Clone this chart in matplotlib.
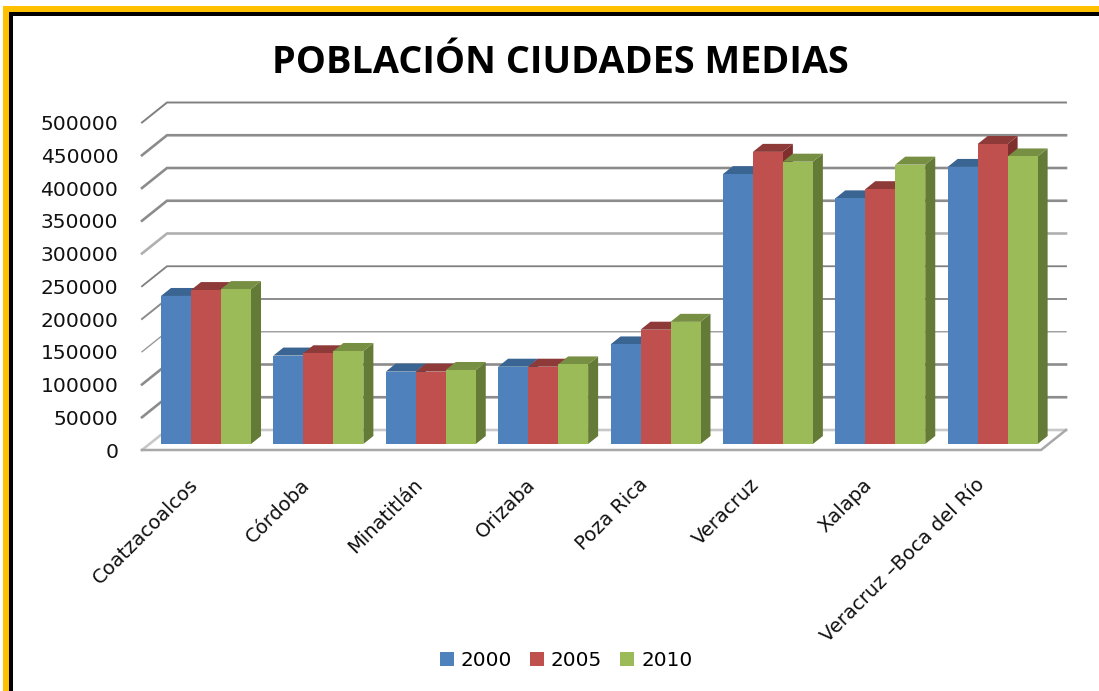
import matplotlib
matplotlib.use("Agg")
import matplotlib.pyplot as plt
from matplotlib.patches import Rectangle, Patch
from matplotlib.transforms import ScaledTranslation

title = "POBLACIÓN CIUDADES MEDIAS"
cities = ["Coatzacoalcos", "Córdoba", "Minatitlán", "Orizaba", "Poza Rica",
          "Veracruz", "Xalapa", "Veracruz –Boca del Río"]
years = ["2000", "2005", "2010"]
v2000 = [226000, 135000, 110500, 118000, 152000, 412000, 375000, 423000]
v2005 = [235000, 138500, 110500, 118000, 174500, 446000, 389000, 458000]
v2010 = [236500, 142000, 113000, 121500, 186500, 431000, 426500, 439000]
series = [v2000, v2005, v2010]
yticks = [0, 50000, 100000, 150000, 200000, 250000, 300000, 350000, 400000, 450000, 500000]

front = ["#4F81BD", "#C0504D", "#9BBB59"]
tops = ["#3A6491", "#8E3A38", "#778F43"]
sides = ["#2F5078", "#7F2F2E", "#647A37"]
grid_w = [1.9, 1.9, 1.9, 1.0, 1.4, 1.3, 1.9, 1.9, 1.9, 1.9, 1.4]
grid_c = ["#c8c8c8", "#8c8c8c", "#8c8c8c", "#9a9a9a", "#8c8c8c", "#7f7f7f",
          "#b0b0b0", "#8c8c8c", "#8c8c8c", "#8c8c8c", "#808080"]

W, H = 1099, 691
L, R, FLOOR, SPAN = 142, 1041, 450, 327.5
fig = plt.figure(figsize=(W / 100, H / 100), dpi=100, facecolor="white")
ax = fig.add_axes([L / W, (H - FLOOR) / H, (R - L) / W, SPAN / H])
ax.set_xlim(0, len(cities))
ax.set_ylim(0, 500000)
ax.patch.set_alpha(0)
for s in ax.spines.values():
    s.set_visible(False)

px = len(cities) / (R - L)      # data units per pixel, x
py = 500000 / SPAN              # data units per pixel, y

# walls and floor
wall_dx, wall_dy = 25 * px, 20 * py
for v, lw, c in zip(yticks, grid_w, grid_c):
    ax.plot([0, wall_dx, len(cities) + wall_dx], [v, v + wall_dy, v + wall_dy],
            color=c, lw=lw, clip_on=False, zorder=1, solid_joinstyle="miter")
ax.plot([0, len(cities), len(cities) + wall_dx], [0, 0, wall_dy],
        color="#a8a8a8", lw=1.8, clip_on=False, zorder=1, solid_joinstyle="miter")

# bars with depth
bar_w, bar_off, lift = 30 * px, 19 * px, 6 * py
dx, dy = 10 * px, 8 * py
z = 2
for i in range(len(cities)):
    for j, vals in enumerate(series):
        x0 = i + bar_off + j * bar_w
        x1 = x0 + bar_w
        top = vals[i] + lift
        ax.fill([x1, x1 + dx, x1 + dx, x1],
                [lift, lift + dy, top + dy, top],
                color=sides[j], lw=0, clip_on=False, zorder=z)
        ax.fill([x0, x1, x1 + dx, x0 + dx], [top, top, top + dy, top + dy],
                color=tops[j], lw=0, clip_on=False, zorder=z)
        ax.bar(x0, vals[i], width=bar_w, bottom=lift, align="edge",
               color=front[j], lw=0, clip_on=False, zorder=z)
        z += 1

FONT = "DejaVu Sans"
ax.set_yticks(yticks)
ax.set_yticklabels([str(v) for v in yticks], fontsize=14.6, family=FONT, color="#111111")
ax.tick_params(axis="y", length=0, pad=17)
ax.set_xticks([i + 0.5 for i in range(len(cities))])
ax.set_xticklabels(cities, rotation=45, ha="right", va="top", rotation_mode="anchor",
                   fontsize=14, family=FONT, color="#111111")
ax.tick_params(axis="x", length=0, pad=18)
shift = ScaledTranslation(-10 / 100, 0, fig.dpi_scale_trans)
for lab in ax.get_xticklabels():
    lab.set_transform(lab.get_transform() + shift)

fig.text(560 / W, 1 - 63 / H, title, ha="center", va="center",
         fontsize=27.3, fontweight="bold", family="Open Sans", color="black")

handles = [Patch(facecolor=c, lw=0, label=y) for c, y in zip(front, years)]
fig.legend(handles=handles, loc="center", bbox_to_anchor=(566 / W, 1 - 660 / H),
           ncol=3, frameon=False, prop={"family": FONT, "size": 14.4},
           handlelength=0.7, handleheight=0.7, handletextpad=0.35,
           columnspacing=0.9, borderpad=0, borderaxespad=0)

# frame
def frame(x, y, thick, color):
    fig.add_artist(Rectangle((x / W, 0), thick / W, 1 - y / H,
                             transform=fig.transFigure, color=color, lw=0))
    fig.add_artist(Rectangle((x / W, 1 - y / H - thick / H), 1 - x / W, thick / H,
                             transform=fig.transFigure, color=color, lw=0))
frame(3, 6, 6, "#FFC000")
frame(9, 12, 4, "black")

fig.savefig("out.png", dpi=100)
